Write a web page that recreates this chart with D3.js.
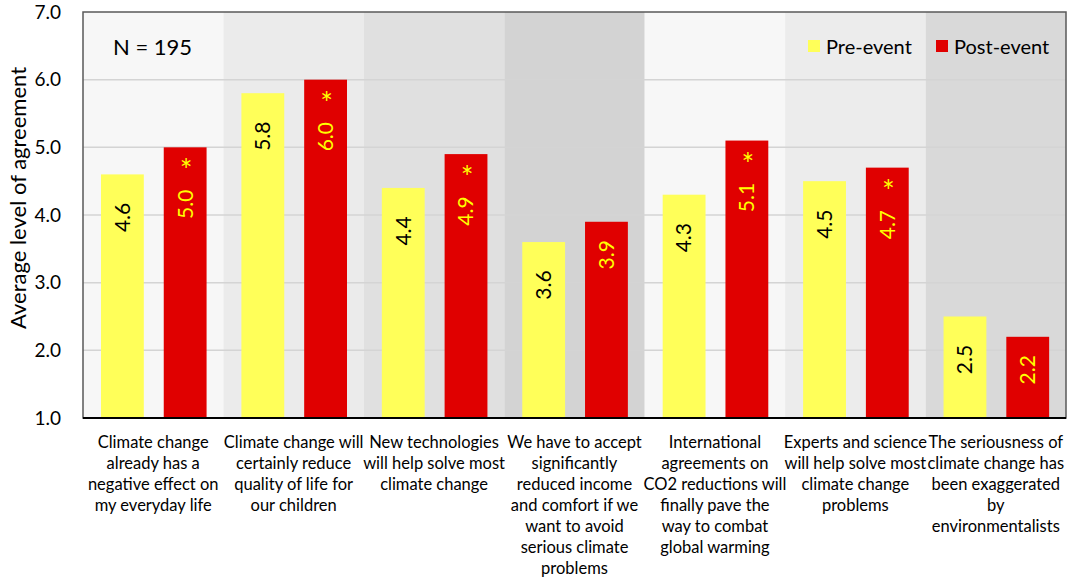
<!DOCTYPE html>
<html>
<head>
<meta charset="utf-8">
<script src="https://cdn.jsdelivr.net/npm/d3@7"></script>
<style>
    body { margin: 0; background: #ffffff; }
    svg { font-family: "Lato", "Open Sans", sans-serif; }
</style>
</head>
<body>
<div class="chart"></div>
<script>
var categories = [
    "Climate change|already has a|negative effect on|my everyday life",
    "Climate change will|certainly reduce|quality of life for|our children",
    "New technologies|will help solve most|climate change",
    "We have to accept|significantly|reduced income|and comfort if we|want to avoid|serious climate|problems",
    "International|agreements on|CO2 reductions will|finally pave the|way to combat|global warming",
    "Experts and science|will help solve most|climate change|problems",
    "The seriousness of|climate change has|been exaggerated|by|environmentalists"
];
var preEvent = [4.6, 5.8, 4.4, 3.6, 4.3, 4.5, 2.5];
var postEvent = [5.0, 6.0, 4.9, 3.9, 5.1, 4.7, 2.2];
var significant = [true, true, true, false, true, true, false];
var seriesNames = ["Pre-event", "Post-event"];
var yTicks = [1, 2, 3, 4, 5, 6, 7];
var bandShades = ["#f7f7f7", "#ebebeb", "#e0e0e0", "#d3d3d3", "#f7f7f7", "#ececec", "#d9d9d9"];

var w = 1072;
var h = 580;
var margin = {top: 12, right: 6, bottom: 162, left: 83};

var svg = d3.select(".chart")
            .append("svg")
            .attr("width", w)
            .attr("height", h);

var xScale = d3.scaleBand()
               .domain(d3.range(categories.length))
               .range([margin.left, w - margin.right]);

var yScale = d3.scaleLinear()
               .domain([1, 7])
               .range([h - margin.bottom, margin.top]);

var barW = xScale.bandwidth() * 0.305;
var preOff = xScale.bandwidth() * 0.128;
var postOff = preOff + barW + xScale.bandwidth() * 0.142;

//Background bands
svg.selectAll("rect.band")
    .data(categories)
    .enter()
    .append("rect")
    .attr("class", "band")
    .attr("x", function(d, i){ return xScale(i); })
    .attr("y", yScale(7))
    .attr("width", xScale.bandwidth())
    .attr("height", yScale(1) - yScale(7))
    .attr("fill", function(d, i){ return bandShades[i]; });

//Grid lines
svg.selectAll("line.grid")
    .data(yTicks.slice(1, -1))
    .enter()
    .append("line")
    .attr("class", "grid")
    .attr("x1", margin.left)
    .attr("x2", w - margin.right)
    .attr("y1", function(d){ return yScale(d); })
    .attr("y2", function(d){ return yScale(d); })
    .attr("stroke", "#d4d4d4")
    .attr("stroke-width", 1.5);

//Bars
svg.selectAll("rect.pre")
    .data(preEvent)
    .enter()
    .append("rect")
    .attr("class", "pre")
    .attr("x", function(d, i){ return xScale(i) + preOff; })
    .attr("y", function(d){ return yScale(d); })
    .attr("width", barW)
    .attr("height", function(d){ return yScale(1) - yScale(d); })
    .attr("fill", "#ffff59");

svg.selectAll("rect.post")
    .data(postEvent)
    .enter()
    .append("rect")
    .attr("class", "post")
    .attr("x", function(d, i){ return xScale(i) + postOff; })
    .attr("y", function(d){ return yScale(d); })
    .attr("width", barW)
    .attr("height", function(d){ return yScale(1) - yScale(d); })
    .attr("fill", "#e00000");

//Value labels (rotated)
svg.selectAll("text.prelabel")
    .data(preEvent)
    .enter()
    .append("text")
    .attr("class", "prelabel")
    .attr("transform", function(d, i){
        var cx = xScale(i) + preOff + barW / 2;
        var cy = yScale(d) + 43;
        return "translate(" + cx + "," + cy + ") rotate(-90)";
    })
    .attr("text-anchor", "middle")
    .attr("dy", "0.35em")
    .attr("font-size", "21px")
    .attr("fill", "#000000")
    .text(function(d){ return d3.format(".1f")(d); });

svg.selectAll("text.postlabel")
    .data(postEvent)
    .enter()
    .append("text")
    .attr("class", "postlabel")
    .attr("transform", function(d, i){
        var cx = xScale(i) + postOff + barW / 2;
        var cy = yScale(d) + (significant[i] ? 57 : 33);
        return "translate(" + cx + "," + cy + ") rotate(-90)";
    })
    .attr("text-anchor", "middle")
    .attr("dy", "0.35em")
    .attr("font-size", "21px")
    .attr("fill", "#ffff00")
    .text(function(d){ return d3.format(".1f")(d); });

//Significance stars
postEvent.forEach(function(d, i){
    if(significant[i]){
        svg.append("text")
            .attr("class", "star")
            .attr("x", xScale(i) + postOff + barW / 2 + 1)
            .attr("y", yScale(d) + 34)
            .attr("text-anchor", "middle")
            .attr("font-size", "30px")
            .attr("fill", "#ffff00")
            .text("*");
    }
});

//Plot frame
svg.append("rect")
    .attr("x", margin.left)
    .attr("y", yScale(7))
    .attr("width", w - margin.right - margin.left)
    .attr("height", yScale(1) - yScale(7))
    .attr("fill", "none")
    .attr("stroke", "#595959")
    .attr("stroke-width", 1.5);

svg.append("line")
    .attr("x1", margin.left)
    .attr("x2", w - margin.right)
    .attr("y1", yScale(1))
    .attr("y2", yScale(1))
    .attr("stroke", "#000000")
    .attr("stroke-width", 2);

//Y axis
var yAxis = d3.axisLeft()
              .scale(yScale)
              .tickValues(yTicks)
              .tickFormat(d3.format(".1f"))
              .tickSize(0)
              .tickPadding(22);

svg.append("g")
    .attr("transform", "translate(" + margin.left + ",0)")
    .call(yAxis)
    .call(function(g){ g.select(".domain").remove(); })
    .selectAll("text")
    .style("font-family", "Lato, 'Open Sans', sans-serif")
    .style("font-size", "19px")
    .attr("fill", "#000000");

svg.append("text")
    .attr("transform", "translate(26," + 198 + ") rotate(-90)")
    .attr("text-anchor", "middle")
    .attr("font-size", "22px")
    .attr("fill", "#000000")
    .text("Average level of agreement");

//Category labels
categories.forEach(function(c, i){
    var t = svg.append("text")
                .attr("text-anchor", "middle")
                .attr("font-size", "16.5px")
                .attr("fill", "#000000");
    c.split("|").forEach(function(line, j){
        t.append("tspan")
            .attr("x", xScale(i) + xScale.bandwidth() / 2)
            .attr("y", yScale(1) + 30 + j * 21)
            .text(line);
    });
});

//N label
svg.append("text")
    .attr("x", 113)
    .attr("y", 55)
    .attr("font-size", "22px")
    .attr("fill", "#000000")
    .text("N = 195");

//Legend
var legendX = [808, 936];
var legendColors = ["#ffff59", "#e00000"];
seriesNames.forEach(function(name, i){
    svg.append("rect")
        .attr("x", legendX[i])
        .attr("y", 40)
        .attr("width", 12)
        .attr("height", 12)
        .attr("fill", legendColors[i]);
    svg.append("text")
        .attr("x", legendX[i] + 18)
        .attr("y", 54)
        .attr("font-size", "20px")
        .attr("fill", "#000000")
        .text(name);
});
</script>
</body>
</html>
